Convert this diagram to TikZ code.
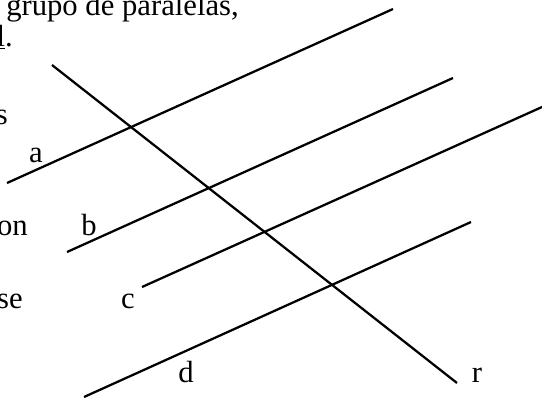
\documentclass[tikz,border=0pt]{standalone}
\usepackage{fontspec}
\setmainfont{Liberation Serif}
\usepackage{tikz}
\tikzset{
  paraline/.style={line width=1.7pt},
  lbl/.style={font=\fontsize{23}{28}\selectfont,inner sep=0pt,anchor=base},
  cuttext/.style={font=\fontsize{23}{28}\selectfont,inner sep=0pt,anchor=base east}
}
\begin{document}
\begin{tikzpicture}[x=0.75pt,y=-0.75pt]
\useasboundingbox (0,0) rectangle (542,397);
\clip (0,0) rectangle (542,397);
% text cut at the left border
\node[lbl,anchor=base west] (t1) at (6,15) {grupo de paralelas,};
\node[cuttext] (t2) at (13,46) {\underline{l}.};
\node[cuttext] (t3) at (8,124) {s};
\node[cuttext] (t4) at (28,235) {on};
\node[cuttext] (t5) at (23,308) {se};
% end points of the lines
\coordinate (a1) at (7,183);   \coordinate (a2) at (393,9);
\coordinate (b1) at (67,252);  \coordinate (b2) at (453,78);
\coordinate (c1) at (142,287); \coordinate (c2) at (562,98);
\coordinate (d1) at (84,397);  \coordinate (d2) at (471,222);
\coordinate (r1) at (52,65);   \coordinate (r2) at (457,383);
\draw[paraline] (a1) -- (a2);
\draw[paraline] (b1) -- (b2);
\draw[paraline] (c1) -- (c2);
\draw[paraline] (d1) -- (d2);
\draw[paraline] (r1) -- (r2);
% labels
\node[lbl] (la) at (36,162) {a};
\node[lbl] (lb) at (89,235) {b};
\node[lbl] (lc) at (128,308) {c};
\node[lbl] (ld) at (186,382) {d};
\node[lbl] (lr) at (477,382) {r};
\end{tikzpicture}
\end{document}
